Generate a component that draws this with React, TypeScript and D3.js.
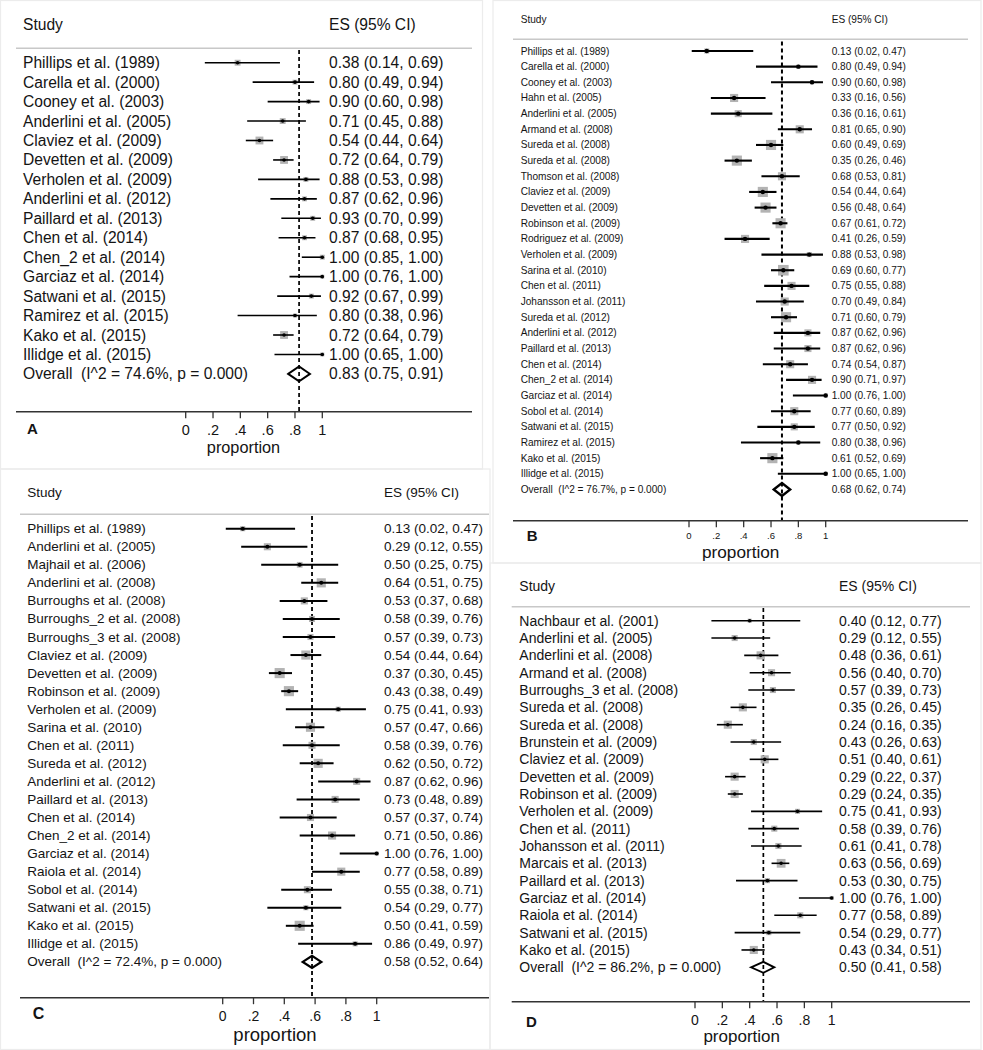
import React from 'react';
import * as d3 from 'd3';

// ---------- DATA ----------
const studiesA = ["Phillips et al. (1989)", "Carella et al. (2000)", "Cooney et al. (2003)", "Anderlini et al. (2005)", "Claviez et al. (2009)", "Devetten et al. (2009)", "Verholen et al. (2009)", "Anderlini et al. (2012)", "Paillard et al. (2013)", "Chen et al. (2014)", "Chen_2 et al. (2014)", "Garciaz et al. (2014)", "Satwani et al. (2015)", "Ramirez et al. (2015)", "Kako et al. (2015)", "Illidge et al. (2015)"];
const esA = [0.38, 0.80, 0.90, 0.71, 0.54, 0.72, 0.88, 0.87, 0.93, 0.87, 1.00, 1.00, 0.92, 0.80, 0.72, 1.00];
const loA = [0.14, 0.49, 0.60, 0.45, 0.44, 0.64, 0.53, 0.62, 0.70, 0.68, 0.85, 0.76, 0.67, 0.38, 0.64, 0.65];
const hiA = [0.69, 0.94, 0.98, 0.88, 0.64, 0.79, 0.98, 0.96, 0.99, 0.95, 1.00, 1.00, 0.99, 0.96, 0.79, 1.00];
const weightA = [3.6, 2.5, 2.5, 3.6, 6.4, 6.4, 2.5, 2.5, 2.5, 2.5, 2.5, 1.6, 2.5, 1.6, 6.4, 1.6];
const overallA = [0.83, 0.75, 0.91];
const i2A = "74.6%";

const studiesB = ["Phillips et al. (1989)", "Carella et al. (2000)", "Cooney et al. (2003)", "Hahn et al. (2005)", "Anderlini et al. (2005)", "Armand et al. (2008)", "Sureda et al. (2008)", "Sureda et al. (2008)", "Thomson et al. (2008)", "Claviez et al. (2009)", "Devetten et al. (2009)", "Robinson et al. (2009)", "Rodriguez et al. (2009)", "Verholen et al. (2009)", "Sarina et al. (2010)", "Chen et al. (2011)", "Johansson et al. (2011)", "Sureda et al. (2012)", "Anderlini et al. (2012)", "Paillard et al. (2013)", "Chen et al. (2014)", "Chen_2 et al. (2014)", "Garciaz et al. (2014)", "Sobol et al. (2014)", "Satwani et al. (2015)", "Ramirez et al. (2015)", "Kako et al. (2015)", "Illidge et al. (2015)"];
const esB = [0.13, 0.80, 0.90, 0.33, 0.36, 0.81, 0.60, 0.35, 0.68, 0.54, 0.56, 0.67, 0.41, 0.88, 0.69, 0.75, 0.70, 0.71, 0.87, 0.87, 0.74, 0.90, 1.00, 0.77, 0.77, 0.80, 0.61, 1.00];
const loB = [0.02, 0.49, 0.60, 0.16, 0.16, 0.65, 0.49, 0.26, 0.53, 0.44, 0.48, 0.61, 0.26, 0.53, 0.60, 0.55, 0.49, 0.60, 0.62, 0.62, 0.54, 0.71, 0.76, 0.60, 0.50, 0.38, 0.52, 0.65];
const hiB = [0.47, 0.94, 0.98, 0.56, 0.61, 0.90, 0.69, 0.46, 0.81, 0.64, 0.64, 0.72, 0.59, 0.98, 0.77, 0.88, 0.84, 0.79, 0.96, 0.96, 0.87, 0.97, 1.00, 0.89, 0.92, 0.96, 0.69, 1.00];
const weightB = [2.5, 1.6, 1.6, 6.4, 4.9, 6.4, 10, 10, 6.4, 10, 10, 10, 6.4, 2.5, 11, 6.4, 6.4, 10, 4.9, 4.9, 6.4, 6.4, 1.6, 6.4, 4.9, 1.6, 10, 1.6];
const overallB = [0.68, 0.62, 0.74];
const i2B = "76.7%";

const studiesC = ["Phillips et al. (1989)", "Anderlini et al. (2005)", "Majhail et al. (2006)", "Anderlini et al. (2008)", "Burroughs et al. (2008)", "Burroughs_2 et al. (2008)", "Burroughs_3 et al. (2008)", "Claviez et al. (2009)", "Devetten et al. (2009)", "Robinson et al. (2009)", "Verholen et al. (2009)", "Sarina et al. (2010)", "Chen et al. (2011)", "Sureda et al. (2012)", "Anderlini et al. (2012)", "Paillard et al. (2013)", "Chen et al. (2014)", "Chen_2 et al. (2014)", "Garciaz et al. (2014)", "Raiola et al. (2014)", "Sobol et al. (2014)", "Satwani et al. (2015)", "Kako et al. (2015)", "Illidge et al. (2015)"];
const esC = [0.13, 0.29, 0.50, 0.64, 0.53, 0.58, 0.57, 0.54, 0.37, 0.43, 0.75, 0.57, 0.58, 0.62, 0.87, 0.73, 0.57, 0.71, 1.00, 0.77, 0.55, 0.54, 0.50, 0.86];
const loC = [0.02, 0.12, 0.25, 0.51, 0.37, 0.39, 0.39, 0.44, 0.30, 0.38, 0.41, 0.47, 0.39, 0.50, 0.62, 0.48, 0.37, 0.50, 0.76, 0.58, 0.38, 0.29, 0.41, 0.49];
const hiC = [0.47, 0.55, 0.75, 0.75, 0.68, 0.76, 0.73, 0.64, 0.45, 0.49, 0.93, 0.66, 0.76, 0.72, 0.96, 0.89, 0.74, 0.86, 1.00, 0.89, 0.71, 0.77, 0.59, 0.97];
const weightC = [2.5, 4.9, 3.2, 8.1, 4.9, 3.6, 3.6, 8.1, 10, 10, 2.5, 8.1, 4.9, 8.1, 4.9, 4.9, 4.9, 6.4, 1.6, 6.4, 4.9, 2.5, 10, 2.5];
const overallC = [0.58, 0.52, 0.64];
const i2C = "72.4%";

const studiesD = ["Nachbaur et al. (2001)", "Anderlini et al. (2005)", "Anderlini et al. (2008)", "Armand et al. (2008)", "Burroughs_3 et al. (2008)", "Sureda et al. (2008)", "Sureda et al. (2008)", "Brunstein et al. (2009)", "Claviez et al. (2009)", "Devetten et al. (2009)", "Robinson et al. (2009)", "Verholen et al. (2009)", "Chen et al. (2011)", "Johansson et al. (2011)", "Marcais et al. (2013)", "Paillard et al. (2013)", "Garciaz et al. (2014)", "Raiola et al. (2014)", "Satwani et al. (2015)", "Kako et al. (2015)"];
const esD = [0.40, 0.29, 0.48, 0.56, 0.57, 0.35, 0.24, 0.43, 0.51, 0.29, 0.29, 0.75, 0.58, 0.61, 0.63, 0.53, 1.00, 0.77, 0.54, 0.43];
const loD = [0.12, 0.12, 0.36, 0.40, 0.39, 0.26, 0.16, 0.26, 0.40, 0.22, 0.24, 0.41, 0.39, 0.41, 0.56, 0.30, 0.76, 0.58, 0.29, 0.34];
const hiD = [0.77, 0.55, 0.61, 0.70, 0.73, 0.45, 0.35, 0.63, 0.61, 0.37, 0.35, 0.93, 0.76, 0.78, 0.69, 0.75, 1.00, 0.89, 0.77, 0.51];
const weightD = [1.6, 3.6, 6.4, 4.9, 3.6, 6.4, 6.4, 3.6, 6.4, 6.4, 6.4, 2.5, 3.6, 3.6, 7.5, 2.5, 1.6, 3.6, 2.5, 6.4];
const overallD = [0.50, 0.41, 0.58];
const i2D = "86.2%";

const tickValues = [0, 0.2, 0.4, 0.6, 0.8, 1];
const tickLabels = ["0", ".2", ".4", ".6", ".8", "1"];

// ---------- LAYOUT ----------
const FONT = "'Liberation Sans', Arial, Helvetica, sans-serif";
const INK = "#141414";

type Layout = {
  frame: [number, number, number, number];
  labelX: number; esX: number; headerY: number;
  lineX1: number; lineX2: number; headerLineY: number;
  row0: number; rowStep: number;
  x0: number; x1: number; axisY: number; tickLen: number; tickLabelY: number;
  propX: number; propY: number;
  letter: string; letterX: number; letterY: number;
  fontSize: number; tickFont: number; propFont: number; letterFont: number;
  ciWidth: number; diamondH: number; dashTop: number; dotR: number; sqScale: number; dashW: number;
};

const layoutA: Layout = {
  frame: [0.5, 0.5, 482, 468.5],
  labelX: 23, esX: 329, headerY: 24, lineX1: 16, lineX2: 472, headerLineY: 48.3,
  row0: 62.7, rowStep: 19.45, x0: 185.7, x1: 322.3, axisY: 411.7, tickLen: 6.5, tickLabelY: 429.5,
  propX: 243.5, propY: 446.5, letter: "A", letterX: 27, letterY: 428,
  fontSize: 15.6, tickFont: 14.5, propFont: 16.3, letterFont: 15,
  ciWidth: 1.6, diamondH: 15, dashTop: 50, dotR: 1.8, sqScale: 3.1, dashW: 1.7,
};
const layoutB: Layout = {
  frame: [493, 0.5, 488, 562.5],
  labelX: 520.7, esX: 831.7, headerY: 19.3, lineX1: 513, lineX2: 968, headerLineY: 39.3,
  row0: 51, rowStep: 15.66, x0: 689, x1: 825.7, axisY: 520.7, tickLen: 6.5, tickLabelY: 535.5,
  propX: 740.7, propY: 552, letter: "B", letterX: 526.7, letterY: 535,
  fontSize: 10.1, tickFont: 9.5, propFont: 17.2, letterFont: 15,
  ciWidth: 2.1, diamondH: 13, dashTop: 41.5, dotR: 2.2, sqScale: 3.2, dashW: 2,
};
const layoutC: Layout = {
  frame: [0.5, 469, 489.5, 580.5],
  labelX: 27.3, esX: 384, headerY: 492.7, lineX1: 20, lineX2: 489, headerLineY: 514.3,
  row0: 528.7, rowStep: 18.05, x0: 222.7, x1: 376.7, axisY: 997.7, tickLen: 6.5, tickLabelY: 1016.2,
  propX: 275, propY: 1034.5, letter: "C", letterX: 32.7, letterY: 1013.3,
  fontSize: 13.5, tickFont: 14, propFont: 18.5, letterFont: 16,
  ciWidth: 2, diamondH: 12, dashTop: 516, dotR: 2, sqScale: 3.2, dashW: 1.8,
};
const layoutD: Layout = {
  frame: [490, 563, 491, 486.5],
  labelX: 519.3, esX: 839, headerY: 586, lineX1: 511.7, lineX2: 970, headerLineY: 606.7,
  row0: 620.7, rowStep: 17.33, x0: 695, x1: 831.7, axisY: 1001.7, tickLen: 6.5, tickLabelY: 1019.5,
  propX: 741.7, propY: 1036, letter: "D", letterX: 526, letterY: 1021.7,
  fontSize: 14, tickFont: 14, propFont: 17, letterFont: 15,
  ciWidth: 1.6, diamondH: 11, dashTop: 608, dotR: 1.8, sqScale: 3.2, dashW: 1.7,
};

const f2 = d3.format(".2f");
const esLabel = (e: number, l: number, h: number) => `${f2(e)} (${f2(l)}, ${f2(h)})`;

function Panel(props: {
  studies: string[]; es: number[]; lo: number[]; hi: number[]; weight: number[];
  overall: number[]; i2: string; L: Layout;
}) {
  const { studies, es, lo, hi, weight, overall, i2, L } = props;
  const n = studies.length;
  const x = d3.scaleLinear().domain([0, 1]).range([L.x0, L.x1]);
  const y = d3.scaleLinear().domain([0, n]).range([L.row0, L.row0 + n * L.rowStep]);
  const side = d3.scaleSqrt().domain([0, 1]).range([0, L.sqScale]);
  const oy = y(n);
  const hd = L.diamondH / 2;
  const diamond = d3.line()([
    [x(overall[1]), oy], [x(overall[0]), oy - hd], [x(overall[2]), oy], [x(overall[0]), oy + hd],
  ]) + "Z";
  const [fx, fy, fw, fh] = L.frame;
  return (
    <g fontFamily={FONT} fill={INK}>
      <rect x={fx} y={fy} width={fw} height={fh} fill="none" stroke="#ececec" strokeWidth={1.2} />
      <text x={L.labelX} y={L.headerY} fontSize={L.fontSize} dominantBaseline="central">Study</text>
      <text x={L.esX} y={L.headerY} fontSize={L.fontSize} dominantBaseline="central">ES (95% CI)</text>
      <line x1={L.lineX1} x2={L.lineX2} y1={L.headerLineY} y2={L.headerLineY} stroke="#c8c8c8" strokeWidth={1.6} />
      <line x1={x(overall[0])} x2={x(overall[0])} y1={L.dashTop} y2={L.axisY} stroke="#000" strokeWidth={L.dashW} strokeDasharray="4 3" />
      {studies.map((s, i) => {
        const sz = side(weight[i]);
        return (
          <g key={i}>
            <text x={L.labelX} y={y(i)} fontSize={L.fontSize} dominantBaseline="central">{s}</text>
            <text x={L.esX} y={y(i)} fontSize={L.fontSize} dominantBaseline="central">{esLabel(es[i], lo[i], hi[i])}</text>
            <rect x={x(es[i]) - sz / 2} y={y(i) - sz / 2} width={sz} height={sz} fill="#b3b3b3" />
            <line x1={x(lo[i])} x2={x(hi[i])} y1={y(i)} y2={y(i)} stroke="#000" strokeWidth={L.ciWidth} />
            <circle cx={x(es[i])} cy={y(i)} r={L.dotR} fill="#000" />
          </g>
        );
      })}
      <text x={L.labelX} y={oy} fontSize={L.fontSize} dominantBaseline="central" style={{ whiteSpace: 'pre' }}>{`Overall  (I^2 = ${i2}, p = 0.000)`}</text>
      <text x={L.esX} y={oy} fontSize={L.fontSize} dominantBaseline="central">{esLabel(overall[0], overall[1], overall[2])}</text>
      <path d={diamond} fill="none" stroke="#000" strokeWidth={L.ciWidth + 0.3} strokeLinejoin="miter" />
      <line x1={L.lineX1} x2={L.lineX2} y1={L.axisY} y2={L.axisY} stroke="#333" strokeWidth={1.5} />
      {tickValues.map((t, i) => (
        <g key={t}>
          <line x1={x(t)} x2={x(t)} y1={L.axisY} y2={L.axisY + L.tickLen} stroke="#333" strokeWidth={1.3} />
          <text x={x(t)} y={L.tickLabelY} fontSize={L.tickFont} textAnchor="middle" dominantBaseline="central">{tickLabels[i]}</text>
        </g>
      ))}
      <text x={L.propX} y={L.propY} fontSize={L.propFont} textAnchor="middle" dominantBaseline="central">proportion</text>
      <text x={L.letterX} y={L.letterY} fontSize={L.letterFont} fontWeight="bold" dominantBaseline="central">{L.letter}</text>
    </g>
  );
}

export default function App() {
  return (
    <svg width={983} height={1050} viewBox="0 0 983 1050" style={{ position: 'absolute', left: 0, top: 0, background: '#fff' }}>
      <rect x={0} y={0} width={983} height={1050} fill="#fff" />
      <Panel studies={studiesA} es={esA} lo={loA} hi={hiA} weight={weightA} overall={overallA} i2={i2A} L={layoutA} />
      <Panel studies={studiesB} es={esB} lo={loB} hi={hiB} weight={weightB} overall={overallB} i2={i2B} L={layoutB} />
      <Panel studies={studiesC} es={esC} lo={loC} hi={hiC} weight={weightC} overall={overallC} i2={i2C} L={layoutC} />
      <Panel studies={studiesD} es={esD} lo={loD} hi={hiD} weight={weightD} overall={overallD} i2={i2D} L={layoutD} />
    </svg>
  );
}
